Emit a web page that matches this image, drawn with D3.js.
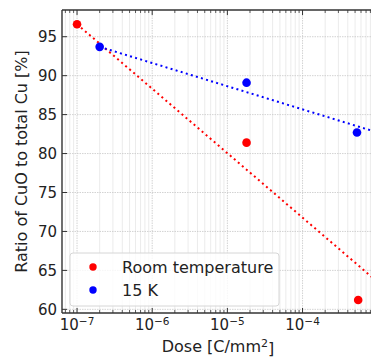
<!DOCTYPE html>
<html>
<head>
<meta charset="utf-8">
<script src="https://cdn.jsdelivr.net/npm/d3@7/dist/d3.min.js"></script>
<style>
  body { margin: 0; background: #fff; }
  svg { font-family: "DejaVu Sans", sans-serif; }
</style>
</head>
<body>
<div id="chart"></div>
<script>
// measured points
const roomDose = [1e-7, 1.8e-5, 5.5e-4];
const roomRatio = [96.6, 81.4, 61.2];
const lowDose = [2e-7, 1.8e-5, 5.3e-4];
const lowRatio = [93.7, 89.1, 82.7];

// fit lines (log-linear)
const roomFitDose = [1e-7, 1e-3];
const roomFitRatio = [96.6, 63.5];
const lowFitDose = [2e-7, 1e-3];
const lowFitRatio = [93.7, 82.7];

const yTicks = [60, 65, 70, 75, 80, 85, 90, 95];
const xTickExp = [-7, -6, -5, -4];
const legendLabels = ["Room temperature", "15 K"];

const W = 371, H = 357;
const margin = { top: 10, left: 62, bottom: 44 };
const plotBottom = H - margin.bottom; // 313

const svg = d3.select("#chart").append("svg")
  .attr("width", W)
  .attr("height", H);

const x = d3.scaleLog().domain([Math.pow(10, -7.2), 1e-3]).range([margin.left, 377.7]);
const y = d3.scaleLinear().domain([59.53, 98.43]).range([plotBottom, margin.top]);

svg.append("defs").append("clipPath").attr("id", "clip")
  .append("rect")
  .attr("x", margin.left).attr("y", margin.top)
  .attr("width", W - margin.left).attr("height", plotBottom - margin.top);

const grid = svg.append("g");

// minor vertical grid
let minorVals = [];
for (let e = -8; e <= -3; e++) {
  for (let m = 2; m <= 9; m++) minorVals.push(m * Math.pow(10, e));
}
minorVals = minorVals.filter(v => x(v) > margin.left && x(v) < W);

grid.selectAll(".vminor")
  .data(minorVals)
  .enter().append("line")
  .attr("x1", d => x(d)).attr("x2", d => x(d))
  .attr("y1", margin.top).attr("y2", plotBottom)
  .style("stroke", "#e6e6e6")
  .style("stroke-width", 0.8);

grid.selectAll(".vmajor")
  .data(xTickExp)
  .enter().append("line")
  .attr("x1", d => x(Math.pow(10, d))).attr("x2", d => x(Math.pow(10, d)))
  .attr("y1", margin.top).attr("y2", plotBottom)
  .style("stroke", "#c8c8c8")
  .style("stroke-width", 0.8)
  .style("stroke-dasharray", "1.5,1");

grid.selectAll(".hmajor")
  .data(yTicks)
  .enter().append("line")
  .attr("x1", margin.left).attr("x2", W)
  .attr("y1", d => y(d)).attr("y2", d => y(d))
  .style("stroke", "#c8c8c8")
  .style("stroke-width", 0.8)
  .style("stroke-dasharray", "1.5,1");

const plot = svg.append("g").attr("clip-path", "url(#clip)");

const line = d3.line()
  .x(d => x(d[0]))
  .y(d => y(d[1]));

plot.append("path")
  .datum(roomFitDose.map((d, i) => [d, roomFitRatio[i]]))
  .attr("d", line)
  .style("fill", "none")
  .style("stroke", "#ff0000")
  .style("stroke-width", 2)
  .style("stroke-dasharray", "2,3.3");

plot.append("path")
  .datum(lowFitDose.map((d, i) => [d, lowFitRatio[i]]))
  .attr("d", line)
  .style("fill", "none")
  .style("stroke", "#0000ff")
  .style("stroke-width", 2)
  .style("stroke-dasharray", "2,3.3");

plot.selectAll(".dotRoom")
  .data(roomDose.map((d, i) => [d, roomRatio[i]]))
  .enter().append("circle")
  .attr("cx", d => x(d[0]))
  .attr("cy", d => y(d[1]))
  .attr("r", 4.3)
  .style("fill", "#ff0000");

plot.selectAll(".dotLow")
  .data(lowDose.map((d, i) => [d, lowRatio[i]]))
  .enter().append("circle")
  .attr("cx", d => x(d[0]))
  .attr("cy", d => y(d[1]))
  .attr("r", 4.3)
  .style("fill", "#0000ff");

// legend
const lg = svg.append("g");
lg.append("rect")
  .attr("x", 70).attr("y", 253)
  .attr("width", 209).attr("height", 53)
  .attr("rx", 3)
  .style("fill", "rgba(255,255,255,0.8)")
  .style("stroke", "#d6d6d6")
  .style("stroke-width", 1);

const legendColors = ["#ff0000", "#0000ff"];
legendLabels.forEach((lab, i) => {
  lg.append("circle")
    .attr("cx", 93).attr("cy", 267 + i * 23)
    .attr("r", 3.7)
    .style("fill", legendColors[i]);
  lg.append("text")
    .attr("x", 122).attr("y", 267 + i * 23)
    .attr("dy", "0.36em")
    .style("font-size", "16px")
    .style("fill", "#222")
    .text(lab);
});

// spines
const axisG = svg.append("g");
axisG.append("line")
  .attr("x1", margin.left).attr("x2", margin.left)
  .attr("y1", margin.top).attr("y2", plotBottom)
  .style("stroke", "#333").style("stroke-width", 1.4);
axisG.append("line")
  .attr("x1", margin.left).attr("x2", W)
  .attr("y1", plotBottom).attr("y2", plotBottom)
  .style("stroke", "#333").style("stroke-width", 1.4);
axisG.append("line")
  .attr("x1", margin.left).attr("x2", W)
  .attr("y1", margin.top).attr("y2", margin.top)
  .style("stroke", "#333").style("stroke-width", 1.4);

// x ticks (inward, bottom and top)
[plotBottom, margin.top].forEach((y0, k) => {
  const dir = k === 0 ? -1 : 1;
  axisG.selectAll(null)
    .data(xTickExp)
    .enter().append("line")
    .attr("x1", d => x(Math.pow(10, d))).attr("x2", d => x(Math.pow(10, d)))
    .attr("y1", y0).attr("y2", y0 + dir * 5)
    .style("stroke", "#333").style("stroke-width", 1);
  axisG.selectAll(null)
    .data(minorVals)
    .enter().append("line")
    .attr("x1", d => x(d)).attr("x2", d => x(d))
    .attr("y1", y0).attr("y2", y0 + dir * 3)
    .style("stroke", "#333").style("stroke-width", 0.8);
});

// y ticks (inward)
axisG.selectAll(null)
  .data(yTicks)
  .enter().append("line")
  .attr("x1", margin.left).attr("x2", margin.left + 5)
  .attr("y1", d => y(d)).attr("y2", d => y(d))
  .style("stroke", "#333").style("stroke-width", 1);

axisG.selectAll(null)
  .data(yTicks)
  .enter().append("text")
  .attr("x", margin.left - 5)
  .attr("y", d => y(d))
  .attr("dy", "0.36em")
  .attr("text-anchor", "end")
  .style("font-size", "15px")
  .style("fill", "#222")
  .text(d => d);

const xl = axisG.selectAll(null)
  .data(xTickExp)
  .enter().append("text")
  .attr("x", d => x(Math.pow(10, d)))
  .attr("y", 330)
  .attr("text-anchor", "middle")
  .style("font-size", "15px")
  .style("fill", "#222");
xl.append("tspan").text("10");
xl.append("tspan")
  .attr("dy", "-0.45em")
  .style("font-size", "10.5px")
  .text(d => "\u2212" + Math.abs(d));

// axis labels
svg.append("text")
  .attr("transform", "translate(27," + ((margin.top + plotBottom) / 2) + ") rotate(-90)")
  .attr("text-anchor", "middle")
  .style("font-size", "16px")
  .style("fill", "#222")
  .text("Ratio of CuO to total Cu [%]");

const xlab = svg.append("text")
  .attr("x", 218).attr("y", 352)
  .attr("text-anchor", "middle")
  .style("font-size", "16px")
  .style("fill", "#222");
xlab.append("tspan").text("Dose [C/mm");
xlab.append("tspan").attr("dy", "-0.45em").style("font-size", "11px").text("2");
xlab.append("tspan").attr("dy", "0.45em").text("]");
</script>
</body>
</html>
